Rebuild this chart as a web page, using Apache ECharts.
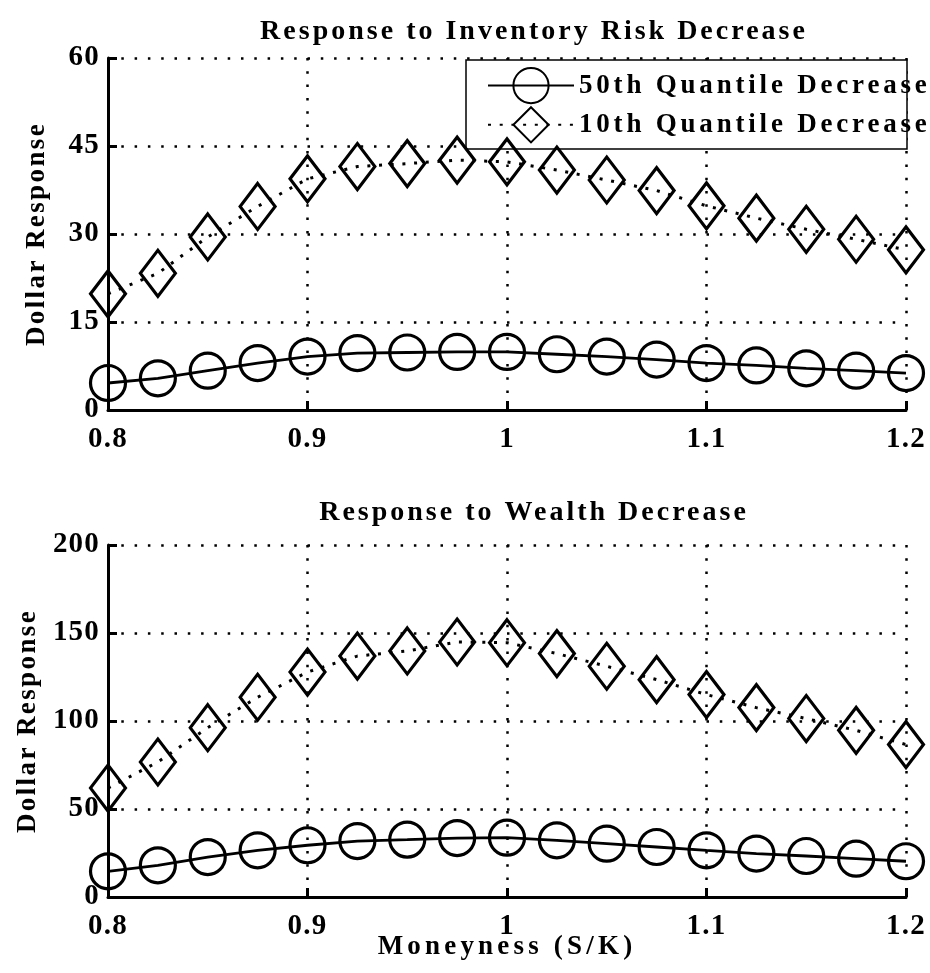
<!DOCTYPE html>
<html>
<head>
<meta charset="utf-8">
<script src="https://cdn.jsdelivr.net/npm/echarts@6/dist/echarts.min.js"></script>
<style>
html,body{margin:0;padding:0;background:#fff;}
#chart{width:930px;height:973px;}
</style>
</head>
<body>
<div id="chart"></div>
<script>
// ---- data ----
const moneyness = [0.8, 0.825, 0.85, 0.875, 0.9, 0.925, 0.95, 0.975, 1.0, 1.025, 1.05, 1.075, 1.1, 1.125, 1.15, 1.175, 1.2];
const inv50 = [4.6, 5.4, 6.7, 8.0, 9.1, 9.7, 9.8, 9.9, 9.9, 9.5, 9.1, 8.6, 8.0, 7.6, 7.1, 6.7, 6.3];
const inv10 = [19.8, 23.3, 29.5, 34.7, 39.4, 41.5, 42.0, 42.6, 42.3, 40.9, 39.2, 37.4, 34.8, 32.7, 30.8, 29.1, 27.3];
const wealth50 = [14.6, 18.0, 22.7, 26.5, 29.4, 31.8, 32.6, 33.5, 33.7, 32.2, 30.3, 28.4, 26.5, 24.7, 23.3, 21.8, 20.3];
const wealth10 = [61.9, 76.7, 96.2, 113.5, 127.8, 136.9, 139.8, 144.9, 144.5, 138.3, 131.1, 123.5, 115.0, 107.6, 101.4, 94.7, 86.6];
const xTickLabels = ['0.8', '0.9', '1', '1.1', '1.2'];
const seriesNames = ['50th Quantile Decrease', '10th Quantile Decrease'];
const titles = ['Response to Inventory Risk Decrease', 'Response to Wealth Decrease'];
const yLabel = 'Dollar Response';
const xLabel = 'Moneyness (S/K)';

// letter spacing: a marker family "lsNN" (tenths of px) in the font list sets canvas letterSpacing
(function(){
  const P = CanvasRenderingContext2D.prototype;
  if (!('letterSpacing' in P)) return;
  const setLS = function(ctx){
    const m = /ls(\d+)/.exec(ctx.font);
    ctx.letterSpacing = m ? (parseInt(m[1], 10) / 10) + 'px' : '0px';
  };
  const ft = P.fillText, mt = P.measureText, st = P.strokeText;
  P.fillText = function(){ setLS(this); return ft.apply(this, arguments); };
  P.strokeText = function(){ setLS(this); return st.apply(this, arguments); };
  P.measureText = function(){ setLS(this); return mt.apply(this, arguments); };
})();

const serif = (ls) => "'Liberation Serif', 'Times New Roman', serif, ls" + ls;
const F_TICK = serif(12), F_TITLE = serif(30), F_LEG = serif(38), F_YNAME = serif(24), F_XNAME = serif(42);
const pairs = (ys) => moneyness.map((x, i) => [x, ys[i]]);

function xAxisCfg(gridIndex, withName) {
  const c = {
    type: 'value', gridIndex, min: 0.8, max: 1.2, interval: 0.1,
    axisLine: { show: true, onZero: false, lineStyle: { color: '#000', width: 3 } },
    axisTick: { show: true, inside: true, length: 9, lineStyle: { color: '#000', width: 3 } },
    axisLabel: { margin: 14, color: '#000', fontFamily: F_TICK, fontWeight: 'bold', fontSize: 29,
      formatter: (v, i) => xTickLabels[i] },
    splitLine: { show: true, lineStyle: { color: '#000', width: 2.5, type: [2.5, 10.8] } }
  };
  if (withName) {
    Object.assign(c, { name: xLabel, nameLocation: 'middle', nameGap: 34, nameMoveOverlap: false,
      nameTextStyle: { color: '#000', fontFamily: F_XNAME, fontWeight: 'bold', fontSize: 27 } });
  }
  return c;
}
function yAxisCfg(gridIndex, max, interval, gap) {
  return {
    type: 'value', gridIndex, min: 0, max, interval,
    name: yLabel, nameLocation: 'middle', nameGap: gap, nameMoveOverlap: false,
    nameTextStyle: { color: '#000', fontFamily: F_YNAME, fontWeight: 'bold', fontSize: 27 },
    axisLine: { show: true, lineStyle: { color: '#000', width: 3 } },
    axisTick: { show: true, inside: true, length: 9, lineStyle: { color: '#000', width: 3 } },
    axisLabel: { margin: 8, color: '#000', fontFamily: F_TICK, fontWeight: 'bold', fontSize: 29 },
    splitLine: { show: true, lineStyle: { color: '#000', width: 2.5, type: [2.5, 10.8] } }
  };
}
function circleSeries(name, ys, xi) {
  return {
    name, type: 'line', xAxisIndex: xi, yAxisIndex: xi, data: pairs(ys), clip: false,
    color: '#000', symbol: 'circle', symbolSize: 35,
    itemStyle: { color: 'rgba(255,255,255,0)', borderColor: '#000', borderWidth: 3.2 },
    lineStyle: { color: '#000', width: 2.8, type: 'solid' },
    emphasis: { disabled: true }, z: 3
  };
}
function diamondSeries(name, ys, xi) {
  return {
    name, type: 'line', xAxisIndex: xi, yAxisIndex: xi, data: pairs(ys), clip: false,
    color: '#000', symbol: 'diamond', symbolSize: [35, 46],
    itemStyle: { color: 'rgba(255,255,255,0)', borderColor: '#000', borderWidth: 3.2 },
    lineStyle: { color: '#000', width: 3, type: [3, 8.7] },
    emphasis: { disabled: true }, z: 3
  };
}

const chart = echarts.init(document.getElementById('chart'), null, { renderer: 'canvas' });
chart.setOption({
  backgroundColor: '#fff',
  animation: false,
  title: [
    { text: titles[0], left: 529, top: 11, textAlign: 'center',
      textStyle: { color: '#000', fontFamily: F_TITLE, fontWeight: 'bold', fontSize: 28 } },
    { text: titles[1], left: 529, top: 492, textAlign: 'center',
      textStyle: { color: '#000', fontFamily: F_TITLE, fontWeight: 'bold', fontSize: 28 } }
  ],
  grid: [
    { left: 108, right: 24, top: 58, height: 352, outerBoundsMode: 'none' },
    { left: 108, right: 24, top: 545, height: 352, outerBoundsMode: 'none' }
  ],
  xAxis: [xAxisCfg(0, false), xAxisCfg(1, true)],
  yAxis: [yAxisCfg(0, 60, 15, 56), yAxisCfg(1, 200, 50, 65)],
  graphic: [
    { type: 'rect', z: 1, shape: { x: 466, y: 60, width: 441, height: 89 },
      style: { fill: '#fff', stroke: '#000', lineWidth: 1.5 } }
  ],
  legend: {
    data: seriesNames, left: 482, top: 62, orient: 'vertical',
    itemWidth: 86, itemHeight: 44, itemGap: 2,
    textStyle: { color: '#000', fontFamily: F_LEG, fontWeight: 'bold', fontSize: 27 },
    selectedMode: false
  },
  series: [
    circleSeries(seriesNames[0], inv50, 0),
    diamondSeries(seriesNames[1], inv10, 0),
    circleSeries(seriesNames[0], wealth50, 1),
    diamondSeries(seriesNames[1], wealth10, 1)
  ]
});
</script>
</body>
</html>
